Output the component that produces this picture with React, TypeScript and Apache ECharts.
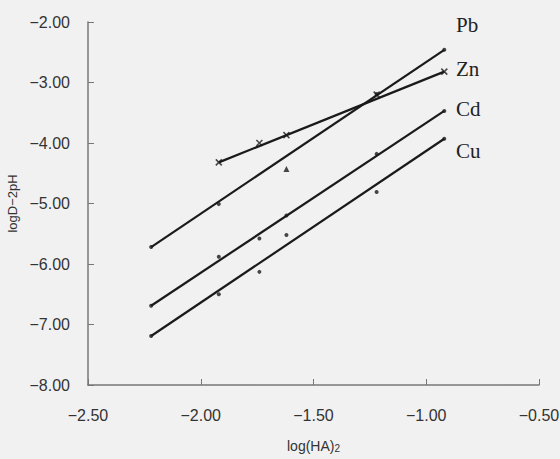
import React, { useEffect, useRef } from "react";
import * as echarts from "echarts";

// log(HA)2 values
const xs = [-2.22, -1.92, -1.74, -1.62, -1.22, -0.92];

// measured points
const pbPoints: [number, number][] = [[-2.22, -5.72], [-1.92, -5.01], [-1.22, -3.19], [-0.92, -2.46]];
const pbOffPoints: [number, number][] = [[-1.62, -4.43]];
const znPoints: [number, number][] = [[-1.92, -4.32], [-1.74, -4.0], [-1.62, -3.87], [-1.22, -3.2], [-0.92, -2.82]];
const cdValues = [-6.69, -5.88, -5.58, -5.2, -4.18, -3.47];
const cuValues = [-7.19, -6.5, -6.13, -5.52, -4.81, -3.93];

// fitted straight lines (end points)
const pbLine: [number, number][] = [[-2.22, -5.72], [-0.92, -2.46]];
const znLine: [number, number][] = [[-1.92, -4.32], [-0.92, -2.82]];
const cdLine: [number, number][] = [[-2.22, -6.69], [-0.92, -3.47]];
const cuLine: [number, number][] = [[-2.22, -7.19], [-0.92, -3.93]];

const seriesNames = ["Pb", "Zn", "Cd", "Cu"];

const X_PATH = "path://M0,0L10,10M10,0L0,10";

const fmt = (v: number) => (v < 0 ? "\u2212" + Math.abs(v).toFixed(2) : v.toFixed(2));

export default function App() {
  const ref = useRef<HTMLDivElement>(null);
  useEffect(() => {
    document.body.style.margin = "0";
    const chart = echarts.init(ref.current!, undefined, { renderer: "svg" });
    const lineStyle = { color: "#1a1a1a", width: 2.2 };
    const mk = (name: string, data: [number, number][]) => ({
      name,
      type: "line",
      data,
      symbol: "none",
      lineStyle,
      z: 2,
    });
    const sc = (name: string, data: [number, number][], symbol: string, size: number) => ({
      name,
      type: "scatter",
      data,
      symbol,
      symbolSize: size,
      itemStyle: { color: "#1a1a1a", borderColor: "#1a1a1a", borderWidth: symbol === X_PATH ? 1.5 : 0 },
      z: 3,
    });
    const labelStyle = { fontFamily: "Liberation Serif", fontSize: 21, fill: "#222" };
    chart.setOption({
      animation: false,
      backgroundColor: "#f1f1f1",
      grid: { left: 88, right: 21, top: 22, bottom: 74, containLabel: false, outerBoundsMode: "none" },
      xAxis: {
        type: "value",
        min: -2.5,
        max: -0.5,
        interval: 0.5,
        name: "log(HA){sub|2}",
        nameLocation: "middle",
        nameGap: 53,
        nameTextStyle: {
          fontFamily: "Liberation Sans",
          fontSize: 14,
          color: "#333",
          rich: { sub: { fontSize: 10, verticalAlign: "bottom", padding: [5, 0, 0, 0], color: "#333" } },
        },
        axisLine: { onZero: false, lineStyle: { color: "#777", width: 1.5 } },
        axisTick: { inside: true, length: 6, lineStyle: { color: "#777" } },
        axisLabel: {
          margin: 22,
          fontFamily: "Liberation Sans",
          fontSize: 16,
          color: "#333",
          formatter: fmt,
        },
        splitLine: { show: false },
      },
      yAxis: {
        type: "value",
        min: -8,
        max: -2,
        interval: 1,
        name: "logD\u22122pH",
        nameLocation: "middle",
        nameGap: 64,
        nameRotate: 90,
        nameTextStyle: { fontFamily: "Liberation Sans", fontSize: 13, color: "#333" },
        axisLine: { onZero: false, lineStyle: { color: "#777", width: 1.5 } },
        axisTick: { inside: true, length: 6, lineStyle: { color: "#777" } },
        axisLabel: {
          margin: 18,
          fontFamily: "Liberation Sans",
          fontSize: 16,
          color: "#333",
          formatter: fmt,
        },
        splitLine: { show: false },
      },
      series: [
        mk(seriesNames[0], pbLine),
        mk(seriesNames[1], znLine),
        mk(seriesNames[2], cdLine),
        mk(seriesNames[3], cuLine),
        sc(seriesNames[0], pbPoints, "circle", 4),
        sc(seriesNames[0], pbOffPoints, "triangle", 6),
        sc(seriesNames[1], znPoints, X_PATH, 6),
        sc(seriesNames[2], xs.map((x, i) => [x, cdValues[i]] as [number, number]), "circle", 4),
        sc(seriesNames[3], xs.map((x, i) => [x, cuValues[i]] as [number, number]), "circle", 4),
      ],
      graphic: [
        { type: "text", left: 456, top: 14, style: { ...labelStyle, text: seriesNames[0] } },
        { type: "text", left: 456, top: 58, style: { ...labelStyle, text: seriesNames[1] } },
        { type: "text", left: 456, top: 98, style: { ...labelStyle, text: seriesNames[2] } },
        { type: "text", left: 456, top: 140, style: { ...labelStyle, text: seriesNames[3] } },
      ],
    });
    return () => chart.dispose();
  }, []);
  return <div ref={ref} style={{ width: 560, height: 459 }} />;
}
